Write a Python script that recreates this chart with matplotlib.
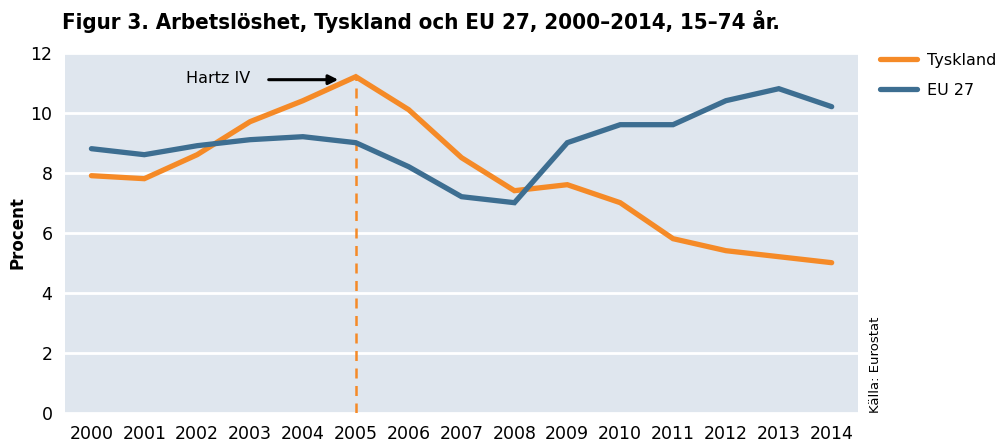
import numpy as np
import matplotlib.pyplot as plt

years = [str(y) for y in range(2000, 2015)]
tyskland = [7.9, 7.8, 8.6, 9.7, 10.4, 11.2, 10.1, 8.5, 7.4, 7.6, 7.0, 5.8, 5.4, 5.2, 5.0]
eu27 = [8.8, 8.6, 8.9, 9.1, 9.2, 9.0, 8.2, 7.2, 7.0, 9.0, 9.6, 9.6, 10.4, 10.8, 10.2]
yticks = [0, 2, 4, 6, 8, 10, 12]

orange = '#f58a27'
blue = '#3d6e91'
bg = '#dfe6ee'

plt.rcParams['font.family'] = ['DejaVu Sans']

fig = plt.figure(figsize=(10.06, 4.48), dpi=100)
ax = fig.add_axes([0.0646, 0.0788, 0.7884, 0.8036])
ax.set_facecolor(bg)

x = np.arange(len(years))
ax.plot(x, tyskland, color=orange, lw=3.8, solid_capstyle='round', solid_joinstyle='miter', label='Tyskland', zorder=3)
ax.plot(x, eu27, color=blue, lw=3.8, solid_capstyle='round', solid_joinstyle='miter', label='EU 27', zorder=3)

# Hartz IV marker
i05 = years.index('2005')
ax.vlines(i05, 0, tyskland[i05], color=orange, lw=1.8, linestyles=(0, (4, 3)), zorder=2)
ax.annotate('', xy=(i05 - 0.28, 11.1), xytext=(i05 - 1.7, 11.1),
            arrowprops=dict(arrowstyle='-|>', color='black', lw=2.2, mutation_scale=14))
ax.text(i05 - 2.0, 11.15, 'Hartz IV', ha='right', va='center', fontsize=11.5)

ax.set_xlim(-0.5, 14.5)
ax.set_ylim(0, 12)
ax.set_xticks(x)
ax.set_xticklabels(years)
ax.set_yticks(yticks)
ax.yaxis.grid(True, color='white', lw=2)
ax.set_axisbelow(True)
for s in ax.spines.values():
    s.set_visible(False)
ax.tick_params(length=0, labelsize=12.5, pad=9)
ax.tick_params(axis='y', pad=9)
ax.set_ylabel('Procent', fontsize=12, fontweight='bold', va='center')
ax.yaxis.set_label_coords(-0.06, 0.5)

fig.text(0.062, 0.953, 'Figur 3. Arbetslöshet, Tyskland och EU 27, 2000\u20132014, 15\u201374 år.',
         fontsize=15.9, fontweight='bold', ha='left', va='center', fontstretch='condensed')
fig.text(0.870, 0.185, 'Källa: Eurostat', rotation=90, fontsize=9.5, ha='center', va='center')

ax.legend(loc='upper left', bbox_to_anchor=(1.01, 1.04), frameon=False, fontsize=11.5,
          handlelength=2.3, handletextpad=0.6, labelspacing=0.95)

plt.savefig('out.png', dpi=100)
